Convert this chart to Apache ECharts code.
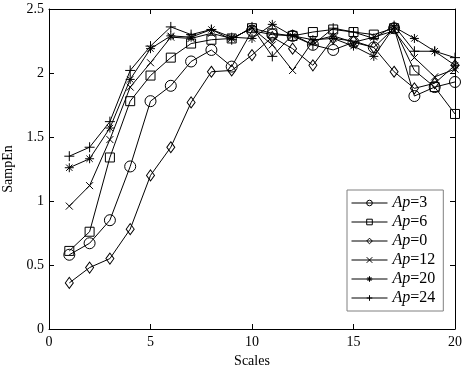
<!DOCTYPE html>
<html>
<head>
<meta charset="utf-8">
<script src="https://cdn.jsdelivr.net/npm/echarts@6/dist/echarts.min.js"></script>
<style>
  html, body { margin: 0; padding: 0; background: #fff; }
  #chart { width: 470px; height: 366px; }
</style>
</head>
<body>
<div id="chart"></div>
<script>
const scales = [1, 2, 3, 4, 5, 6, 7, 8, 9, 10, 11, 12, 13, 14, 15, 16, 17, 18, 19, 20];
const ap3 = [0.58, 0.67, 0.85, 1.27, 1.78, 1.90, 2.09, 2.18, 2.05, 2.33, 2.30, 2.29, 2.22, 2.18, 2.24, 2.20, 2.35, 1.82, 1.89, 1.93];
const ap6 = [0.61, 0.76, 1.34, 1.78, 1.98, 2.12, 2.23, 2.26, 2.27, 2.35, 2.31, 2.29, 2.32, 2.34, 2.32, 2.30, 2.35, 2.02, 1.89, 1.68];
const ap0 = [0.36, 0.48, 0.55, 0.78, 1.20, 1.42, 1.77, 2.01, 2.02, 2.14, 2.28, 2.19, 2.06, 2.27, 2.25, 2.20, 2.01, 1.88, 1.92, 2.06];
const ap12 = [0.96, 1.12, 1.48, 1.89, 2.08, 2.28, 2.27, 2.31, 2.27, 2.35, 2.22, 2.02, 2.25, 2.29, 2.24, 2.28, 2.33, 2.12, 1.97, 2.03];
const ap20 = [1.26, 1.33, 1.57, 1.95, 2.19, 2.29, 2.28, 2.34, 2.28, 2.27, 2.38, 2.29, 2.26, 2.27, 2.21, 2.13, 2.36, 2.27, 2.17, 2.06];
const ap24 = [1.35, 1.42, 1.62, 2.02, 2.21, 2.36, 2.30, 2.34, 2.26, 2.36, 2.13, 2.30, 2.22, 2.35, 2.32, 2.27, 2.37, 2.17, 2.17, 2.12];

const font = 'Liberation Serif';

// marker shapes (stroked paths)
const crossPath = 'path://M0,0L10,10M10,0L0,10';
const plusPath = 'path://M5,0L5,10M0,5L10,5';
const starPath = 'path://M5,0L5,10M0,5L10,5M1.5,1.5L8.5,8.5M8.5,1.5L1.5,8.5';

function makeSeries(name, values, symbol, size) {
  return {
    name: name,
    type: 'line',
    data: scales.map((s, i) => [s, values[i]]),
    symbol: symbol,
    symbolSize: size,
    showSymbol: true,
    lineStyle: { color: '#000', width: 1 },
    itemStyle: { color: 'rgba(255,255,255,0)', borderColor: '#000', borderWidth: 1 },
    emphasis: { disabled: true },
    animation: false
  };
}

const chart = echarts.init(document.getElementById('chart'));

const axisCommon = {
  axisLine: { show: true, onZero: false, lineStyle: { color: '#000', width: 1 } },
  axisTick: { show: true, inside: true, length: 5, lineStyle: { color: '#000' } },
  splitLine: { show: false }
};

chart.setOption({
  backgroundColor: '#fff',
  animation: false,
  grid: { left: 49, right: 15, top: 9, bottom: 37, outerBoundsMode: 'none', containLabel: false },
  xAxis: [
    Object.assign({
      type: 'value', min: 0, max: 20, interval: 5,
      name: 'Scales', nameLocation: 'middle', nameGap: 20,
      nameTextStyle: { fontFamily: font, fontSize: 14, color: '#000' },
      axisLabel: { fontFamily: font, fontSize: 14, color: '#000', margin: 6 }
    }, axisCommon),
    Object.assign({
      type: 'value', min: 0, max: 20, interval: 5, position: 'top',
      axisLabel: { show: false }
    }, axisCommon)
  ],
  yAxis: [
    Object.assign({
      type: 'value', min: 0, max: 2.5, interval: 0.5,
      name: 'SampEn', nameLocation: 'middle', nameGap: 31,
      nameTextStyle: { fontFamily: font, fontSize: 14, color: '#000' },
      axisLabel: { fontFamily: font, fontSize: 14, color: '#000', margin: 5 }
    }, axisCommon),
    Object.assign({
      type: 'value', min: 0, max: 2.5, interval: 0.5, position: 'right',
      axisLabel: { show: false }
    }, axisCommon)
  ],
  legend: {
    orient: 'vertical',
    left: 347,
    top: 190,
    padding: [5, 8, 5, 4],
    itemWidth: 36,
    itemHeight: 7,
    itemGap: 3,
    backgroundColor: '#fff',
    borderColor: '#808080',
    borderWidth: 1,
    itemStyle: { borderWidth: 1 },
    lineStyle: { width: 1 },
    formatter: n => '{i|Ap}' + n.slice(2),
    textStyle: {
      fontFamily: font, fontSize: 16, color: '#000',
      rich: { i: { fontFamily: font, fontSize: 16, fontStyle: 'italic', color: '#000' } }
    },
    data: ['Ap=3', 'Ap=6', 'Ap=0', 'Ap=12', 'Ap=20', 'Ap=24']
  },
  series: [
    makeSeries('Ap=3', ap3, 'circle', 11),
    makeSeries('Ap=6', ap6, 'rect', 9),
    makeSeries('Ap=0', ap0, 'diamond', [8, 11]),
    makeSeries('Ap=12', ap12, crossPath, 7),
    makeSeries('Ap=20', ap20, starPath, 9),
    makeSeries('Ap=24', ap24, plusPath, 10)
  ]
});
</script>
</body>
</html>
